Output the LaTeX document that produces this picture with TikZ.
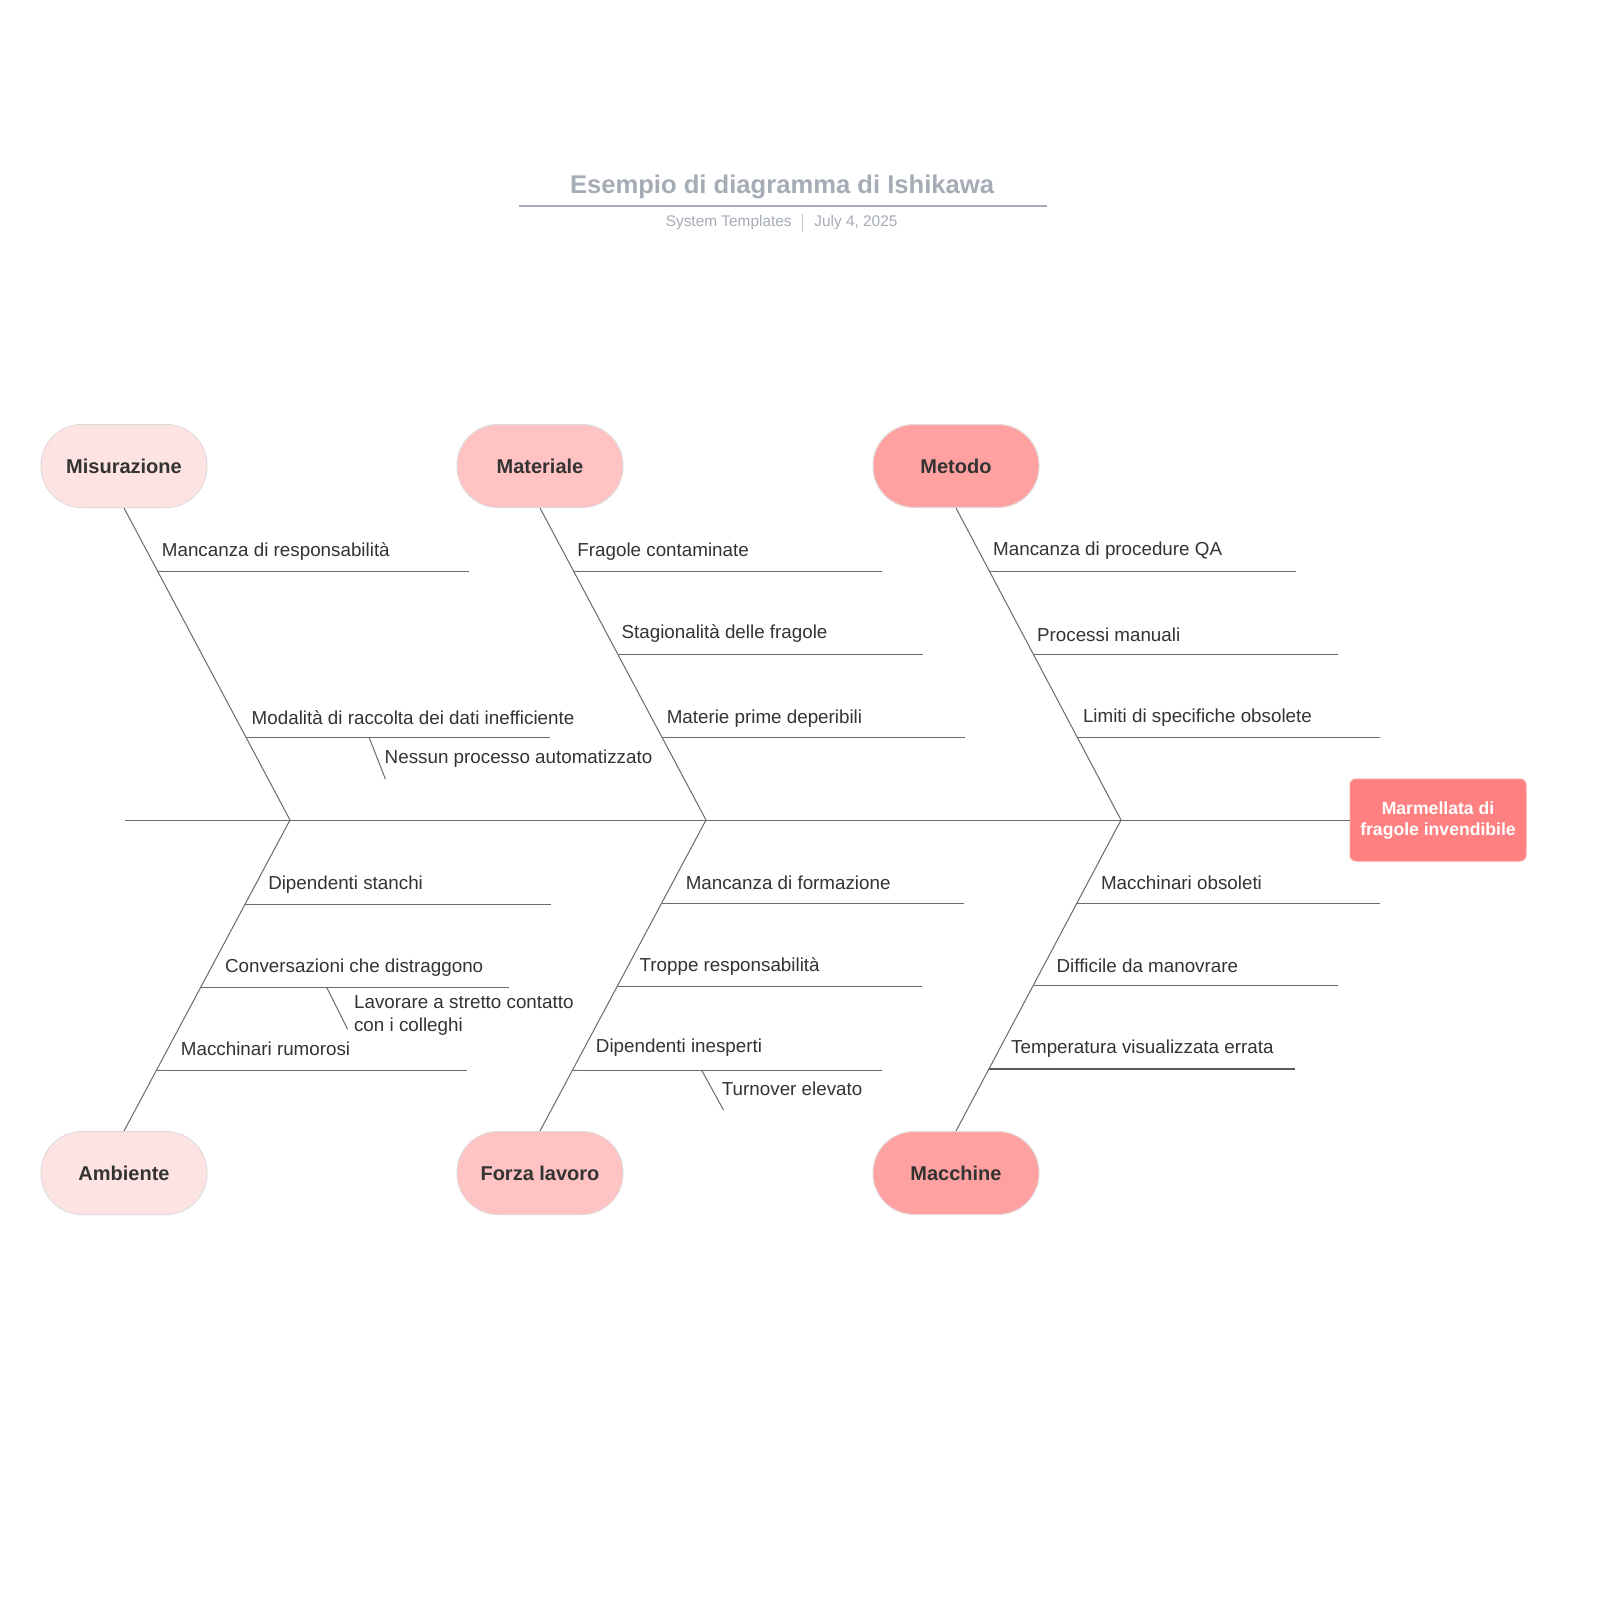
\documentclass[tikz,border=0pt]{standalone}
\usepackage{fontspec}
\setmainfont{Liberation Sans}
\usetikzlibrary{calc}

\definecolor{inkgray}{HTML}{333333}
\definecolor{bonegray}{HTML}{6A6A6A}
\definecolor{titlegray}{HTML}{A6ACB6}
\definecolor{rimgray}{HTML}{E2DADA}
\definecolor{pinkA}{HTML}{FEE3E3}
\definecolor{pinkB}{HTML}{FFC3C3}
\definecolor{pinkC}{HTML}{FFA1A1}
\definecolor{effectred}{HTML}{FF8080}

\tikzset{
    catbox/.style={rectangle, rounded corners=20.5pt, minimum width=83pt, minimum height=41.5pt,
        inner sep=0pt, draw=rimgray, line width=0.5pt, text=inkgray,
        font=\fontsize{10}{12}\selectfont\bfseries},
    effectbox/.style={rectangle, rounded corners=3pt, minimum width=88pt, minimum height=41pt,
        inner sep=0pt, fill=effectred, draw=effectred!80!white, line width=0.5pt, text=white,
        align=center, font=\fontsize{8.8}{10.5}\selectfont\bfseries},
    lbl/.style={anchor=west, inner sep=0pt, text=inkgray, font=\fontsize{9.4}{11.6}\selectfont},
    bone/.style={draw=bonegray, line width=0.5pt},
}

\begin{document}
\begin{tikzpicture}[x=0.5pt, y=-0.5pt]
    \useasboundingbox[fill=white] (0,0) rectangle (1600,1600);

    % Title block
    \node[text=titlegray, font=\fontsize{12.8}{15}\selectfont\bfseries] (title) at (782,187) {Esempio di diagramma di Ishikawa};
    \draw[titlegray, line width=1pt] (519,206) -- (1047,206);
    \node[anchor=east, inner sep=0pt, text=titlegray, font=\fontsize{7.7}{9}\selectfont] (owner) at (792,223) {System Templates};
    \node[anchor=west, inner sep=0pt, text=titlegray, font=\fontsize{7.7}{9}\selectfont] (date) at (814,223) {July 4, 2025};
    \draw[titlegray!70, line width=0.5pt] (802,214) -- (802,232);

    % Categories
    \node[catbox, fill=pinkA] (misu) at (124,466) {Misurazione};
    \node[catbox, fill=pinkB] (mate) at (540,466) {Materiale};
    \node[catbox, fill=pinkC] (meto) at (956,466) {Metodo};
    \node[catbox, fill=pinkA] (ambi) at (124,1173) {Ambiente};
    \node[catbox, fill=pinkB] (forz) at (540,1173) {Forza lavoro};
    \node[catbox, fill=pinkC] (macc) at (956,1173) {Macchine};

    % Effect and spine
    \node[effectbox] (effect) at (1438,820) {Marmellata di\\fragole invendibile};
    \coordinate (tail) at (125,820);
    \coordinate (j1) at (290,820);
    \coordinate (j2) at (706,820);
    \coordinate (j3) at (1121,820);
    \draw[bone] (tail) -- (effect.west);

    % Main bones
    \draw[bone] (misu.south) -- (j1);
    \draw[bone] (mate.south) -- (j2);
    \draw[bone] (meto.south) -- (j3);
    \draw[bone] (j1) -- (ambi.north);
    \draw[bone] (j2) -- (forz.north);
    \draw[bone] (j3) -- (macc.north);

    % Misurazione causes
    \coordinate (mi1) at ($(misu.south)!0.202!(j1)$);
    \coordinate (mi2) at ($(misu.south)!0.737!(j1)$);
    \draw[bone] (mi1) -- ++(311,0);
    \draw[bone] (mi2) -- ++(304,0);
    \node[lbl] (l-mi1) at ($(mi1)+(4,-20)$) {Mancanza di responsabilità};
    \node[lbl] (l-mi2) at ($(mi2)+(5,-20)$) {Modalità di raccolta dei dati inefficiente};
    \coordinate (mi2a) at ($(mi2)+(123,0)$);
    \draw[bone] (mi2a) -- ++(16,41) coordinate (mi2b);
    \node[lbl] (l-mi2a) at ($(mi2a)+(15,21)$) {Nessun processo automatizzato};

    % Materiale causes
    \coordinate (ma1) at ($(mate.south)!0.205!(j2)$);
    \coordinate (ma2) at ($(mate.south)!0.471!(j2)$);
    \coordinate (ma3) at ($(mate.south)!0.737!(j2)$);
    \draw[bone] (ma1) -- ++(308,0);
    \draw[bone] (ma2) -- ++(305,0);
    \draw[bone] (ma3) -- ++(303,0);
    \node[lbl] (l-ma1) at ($(ma1)+(3,-20)$) {Fragole contaminate};
    \node[lbl] (l-ma2) at ($(ma2)+(3,-21)$) {Stagionalità delle fragole};
    \node[lbl] (l-ma3) at ($(ma3)+(4,-19)$) {Materie prime deperibili};

    % Metodo causes
    \coordinate (me1) at ($(meto.south)!0.205!(j3)$);
    \coordinate (me2) at ($(meto.south)!0.471!(j3)$);
    \coordinate (me3) at ($(meto.south)!0.737!(j3)$);
    \draw[bone] (me1) -- ++(306,0);
    \draw[bone] (me2) -- ++(304,0);
    \draw[bone] (me3) -- ++(302,0);
    \node[lbl] (l-me1) at ($(me1)+(3,-21)$) {Mancanza di procedure QA};
    \node[lbl] (l-me2) at ($(me2)+(3,-20)$) {Processi manuali};
    \node[lbl] (l-me3) at ($(me3)+(5,-20)$) {Limiti di specifiche obsolete};

    % Ambiente causes
    \coordinate (am1) at ($(j1)!0.272!(ambi.north)$);
    \coordinate (am2) at ($(j1)!0.538!(ambi.north)$);
    \coordinate (am3) at ($(j1)!0.804!(ambi.north)$);
    \draw[bone] (am1) -- ++(306,0);
    \draw[bone] (am2) -- ++(308,0);
    \draw[bone] (am3) -- ++(310,0);
    \node[lbl] (l-am1) at ($(am1)+(23,-20)$) {Dipendenti stanchi};
    \node[lbl] (l-am2) at ($(am2)+(24,-20)$) {Conversazioni che distraggono};
    \node[lbl] (l-am3) at ($(am3)+(24,-21)$) {Macchinari rumorosi};
    \coordinate (am2a) at ($(am2)+(126,0)$);
    \draw[bone] (am2a) -- ++(21,42) coordinate (am2b);
    \node[lbl, align=left] (l-am2a) at ($(am2a)+(27,28)$) {Lavorare a stretto contatto\\con i colleghi};

    % Forza lavoro causes
    \coordinate (fo1) at ($(j2)!0.269!(forz.north)$);
    \coordinate (fo2) at ($(j2)!0.535!(forz.north)$);
    \coordinate (fo3) at ($(j2)!0.804!(forz.north)$);
    \draw[bone] (fo1) -- ++(303,0);
    \draw[bone] (fo2) -- ++(305,0);
    \draw[bone] (fo3) -- ++(309,0);
    \node[lbl] (l-fo1) at ($(fo1)+(24,-21)$) {Mancanza di formazione};
    \node[lbl] (l-fo2) at ($(fo2)+(22,-20)$) {Troppe responsabilità};
    \node[lbl] (l-fo3) at ($(fo3)+(23,-22)$) {Dipendenti inesperti};
    \coordinate (fo3a) at ($(fo3)+(129,0)$);
    \draw[bone] (fo3a) -- ++(22,40) coordinate (fo3b);
    \node[lbl] (l-fo3a) at ($(fo3a)+(20,19)$) {Turnover elevato};

    % Macchine causes
    \coordinate (mc1) at ($(j3)!0.269!(macc.north)$);
    \coordinate (mc2) at ($(j3)!0.532!(macc.north)$);
    \coordinate (mc3) at ($(j3)!0.801!(macc.north)$);
    \draw[bone] (mc1) -- ++(303,0);
    \draw[bone] (mc2) -- ++(305,0);
    \draw[bone, line width=0.9pt, draw=bonegray!85!black] (mc3) -- ++(306,0);
    \node[lbl] (l-mc1) at ($(mc1)+(24,-21)$) {Macchinari obsoleti};
    \node[lbl] (l-mc2) at ($(mc2)+(23,-20)$) {Difficile da manovrare};
    \node[lbl] (l-mc3) at ($(mc3)+(22,-20)$) {Temperatura visualizzata errata};
\end{tikzpicture}
\end{document}
